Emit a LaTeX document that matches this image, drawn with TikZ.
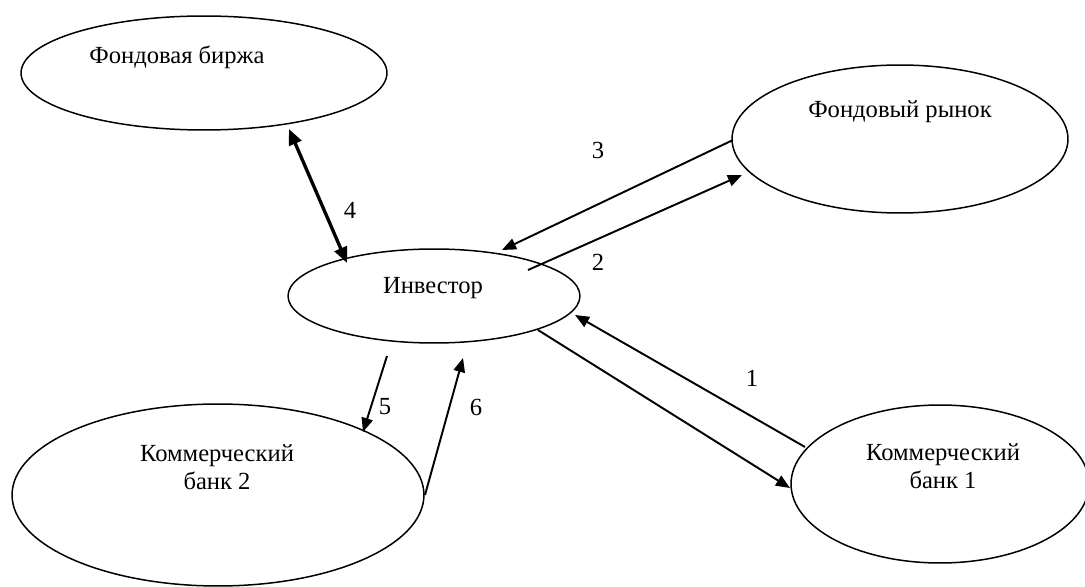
\documentclass[tikz,border=0pt]{standalone}
\usepackage{fontspec}
\setmainfont{Liberation Serif}
\usepackage{tikz}
\usetikzlibrary{shapes.geometric,arrows.meta}

\tikzset{
  oval/.style={draw,ellipse,line width=0.85pt,inner sep=0pt},
  txt/.style={font=\fontsize{14}{16}\selectfont,align=center,inner sep=0pt},
  num/.style={font=\fontsize{14}{16}\selectfont,inner sep=0pt},
  arr/.style={line width=1.1pt,-{Triangle[length=8pt,width=6.5pt]}},
  darr/.style={line width=1.9pt,{Triangle[length=9pt,width=7.5pt]}-{Triangle[length=9pt,width=7.5pt]}},
}

\begin{document}
\begin{tikzpicture}[x=0.02cm,y=-0.02cm]
  \useasboundingbox (0,0) rectangle (1085,587);

  % ovals
  \node[oval,minimum width=7.32cm,minimum height=2.28cm] (birzha) at (204,73) {};
  \node[oval,minimum width=6.72cm,minimum height=2.96cm] (rynok)  at (900,139) {};
  \node[oval,minimum width=5.84cm,minimum height=1.88cm] (inv)    at (434,296) {};
  \node[oval,minimum width=8.24cm,minimum height=3.64cm] (bank2)  at (218,495) {};
  \node[oval,minimum width=5.96cm,minimum height=3.16cm] (bank1)  at (940,484) {};

  \node[txt] (birzha-t) at (177,57)  {Фондовая биржа};
  \node[txt] (rynok-t)  at (900,112) {Фондовый рынок};
  \node[txt] (inv-t)    at (433,288) {Инвестор};
  \node[txt] (bank2-t)  at (217,467) {Коммерческий\\банк 2};
  \node[txt] (bank1-t)  at (943,466) {Коммерческий\\банк 1};

  % arrow ends
  \coordinate (b4) at (289,129);  \coordinate (i4) at (347,263);
  \coordinate (r3) at (733,140);  \coordinate (i3) at (502,250);
  \coordinate (i2) at (528,270);  \coordinate (r2) at (742,175);
  \coordinate (k1) at (805,447);  \coordinate (i1) at (575,315);
  \coordinate (i0) at (538,330);  \coordinate (k0) at (790,488);
  \coordinate (i5) at (387,356);  \coordinate (k5) at (363,432);
  \coordinate (k6) at (425,495);  \coordinate (i6) at (463,358);

  \draw[darr] (b4) -- (i4);
  \draw[arr] (r3) -- (i3);
  \draw[arr] (i2) -- (r2);
  \draw[arr] (k1) -- (i1);
  \draw[arr] (i0) -- (k0);
  \draw[arr] (i5) -- (k5);
  \draw[arr] (k6) -- (i6);

  \node[num] (n1) at (752,378) {1};
  \node[num] (n2) at (598,262) {2};
  \node[num] (n3) at (598,150) {3};
  \node[num] (n4) at (350,210) {4};
  \node[num] (n5) at (385,407) {5};
  \node[num] (n6) at (476,407) {6};
\end{tikzpicture}
\end{document}
